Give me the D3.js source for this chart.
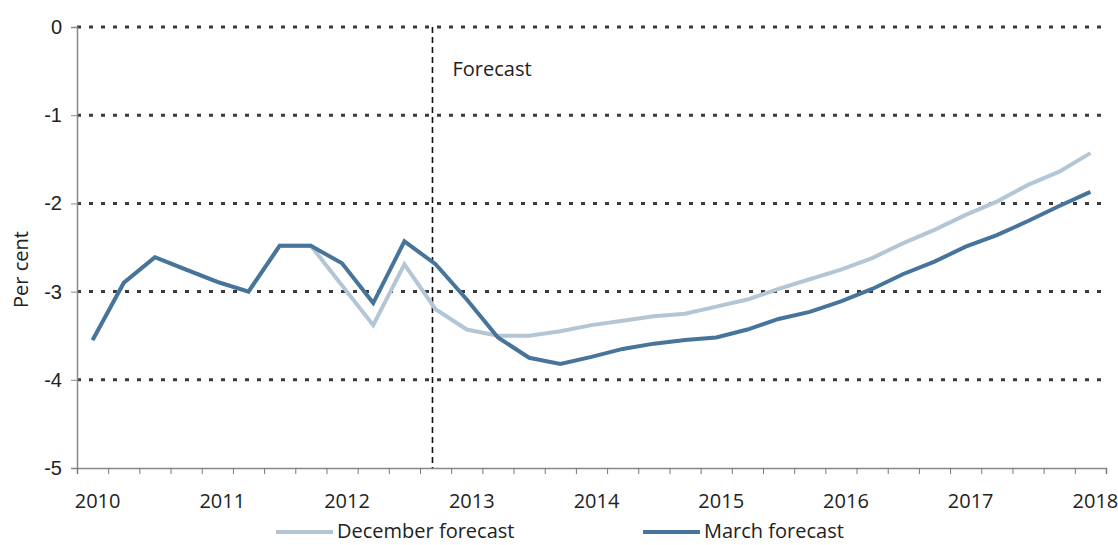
<!DOCTYPE html>
<html>
<head>
<meta charset="utf-8">
<script src="https://cdn.jsdelivr.net/npm/d3@7"></script>
<style>
  body { margin: 0; background: #fff; }
  svg { display: block; font-family: 'Open Sans', sans-serif; }
  .tick text { fill: #222; }
</style>
</head>
<body>
<svg width="1118" height="545"></svg>
<script>
// Quarterly data, 2010 Q1 to 2018 Q1 (per cent)
var quarters = d3.range(33);
var yearLabels = ['2010', '2011', '2012', '2013', '2014', '2015', '2016', '2017', '2018'];
var december = [-3.55, -2.90, -2.61, -2.75, -2.89, -3.00, -2.48, -2.48, -2.93, -3.38, -2.69,
  -3.20, -3.43, -3.50, -3.50, -3.45, -3.38, -3.33, -3.28, -3.25, -3.17, -3.09, -2.97,
  -2.86, -2.75, -2.62, -2.45, -2.30, -2.13, -1.98, -1.79, -1.64, -1.43];
var march = [-3.55, -2.90, -2.61, -2.75, -2.89, -3.00, -2.48, -2.48, -2.68, -3.13, -2.43,
  -2.69, -3.09, -3.52, -3.75, -3.82, -3.74, -3.65, -3.59, -3.55, -3.52, -3.43, -3.31,
  -3.23, -3.11, -2.97, -2.80, -2.66, -2.49, -2.36, -2.20, -2.03, -1.87];
var yTicks = [0, -1, -2, -3, -4, -5];
var forecastStart = 10.9;

var svg = d3.select('svg');
var margin = { top: 27, right: 12, bottom: 77, left: 77 };
var width = 1118 - margin.left - margin.right;
var height = 545 - margin.top - margin.bottom;
var fontSize = '20px';

var x = d3.scaleLinear().domain([-0.5, 32.5]).range([0, width]);
var y = d3.scaleLinear().domain([-5, 0]).range([height, 0]);

var g = svg.append('g')
  .attr('transform', 'translate(' + margin.left + ',' + margin.top + ')');

// Dotted gridlines
g.append('g')
  .selectAll('line')
  .data(yTicks.filter(function (d) { return d > -5; }))
  .enter()
  .append('line')
  .attr('x1', 0)
  .attr('x2', width)
  .attr('y1', y)
  .attr('y2', y)
  .attr('stroke', '#3a3a3a')
  .attr('stroke-width', 3)
  .attr('stroke-dasharray', '4,8');

// Y axis (plain hyphen for negatives, as in the original)
var yAxis = g.append('g')
  .call(d3.axisLeft(y).tickValues(yTicks).tickSize(6).tickPadding(9)
    .tickFormat(function (d) { return String(d); }));
yAxis.selectAll('text').style('font-size', fontSize);
yAxis.select('.domain').attr('stroke', '#888').attr('stroke-width', 1.5);
yAxis.selectAll('.tick line').attr('stroke', '#888');

// X axis: ticks at quarter boundaries, labels at each year's first quarter
var xAxis = g.append('g')
  .attr('transform', 'translate(0,' + height + ')')
  .call(d3.axisBottom(x).tickValues(d3.range(-0.5, 33, 1)).tickSize(6).tickFormat(''));
xAxis.select('.domain').attr('stroke', '#888').attr('stroke-width', 1.5);
xAxis.selectAll('.tick line').attr('stroke', '#777');

g.append('g')
  .selectAll('text')
  .data(yearLabels)
  .enter()
  .append('text')
  .attr('x', function (d, i) { return x(i * 4) + 5; })
  .attr('y', height + 40)
  .attr('text-anchor', 'middle')
  .style('font-size', fontSize)
  .attr('fill', '#222')
  .text(function (d) { return d; });

// Y axis title
svg.append('text')
  .attr('transform', 'translate(28,' + (margin.top + y(-2.75)) + ') rotate(-90)')
  .attr('text-anchor', 'middle')
  .style('font-size', fontSize)
  .attr('fill', '#222')
  .text('Per cent');

// Forecast divider
g.append('line')
  .attr('x1', x(forecastStart))
  .attr('x2', x(forecastStart))
  .attr('y1', y(0))
  .attr('y2', y(-5))
  .attr('stroke', '#111')
  .attr('stroke-width', 1.6)
  .attr('stroke-dasharray', '6,4');

g.append('text')
  .attr('x', x(forecastStart) + 20)
  .attr('y', y(-0.56))
  .style('font-size', fontSize)
  .attr('fill', '#222')
  .text('Forecast');

// Lines
var line = d3.line()
  .x(function (d, i) { return x(quarters[i]); })
  .y(function (d) { return y(d); });

var series = [
  { name: 'December forecast', values: december, color: '#b3c6d6' },
  { name: 'March forecast', values: march, color: '#47749a' }
];

g.selectAll('.series')
  .data(series)
  .enter()
  .append('path')
  .attr('class', 'series')
  .attr('d', function (d) { return line(d.values); })
  .attr('fill', 'none')
  .attr('stroke', function (d) { return d.color; })
  .attr('stroke-width', 4)
  .attr('stroke-linejoin', 'miter');

// Legend
var legend = svg.append('g')
  .attr('transform', 'translate(276,532)');

var item = legend.selectAll('g')
  .data(series)
  .enter()
  .append('g')
  .attr('transform', function (d, i) { return 'translate(' + (i * 367) + ',0)'; });

item.append('line')
  .attr('x1', 0)
  .attr('x2', 57)
  .attr('stroke', function (d) { return d.color; })
  .attr('stroke-width', 4);

item.append('text')
  .attr('x', 61)
  .attr('y', 6)
  .style('font-size', fontSize)
  .attr('fill', '#222')
  .text(function (d) { return d.name; });
</script>
</body>
</html>
